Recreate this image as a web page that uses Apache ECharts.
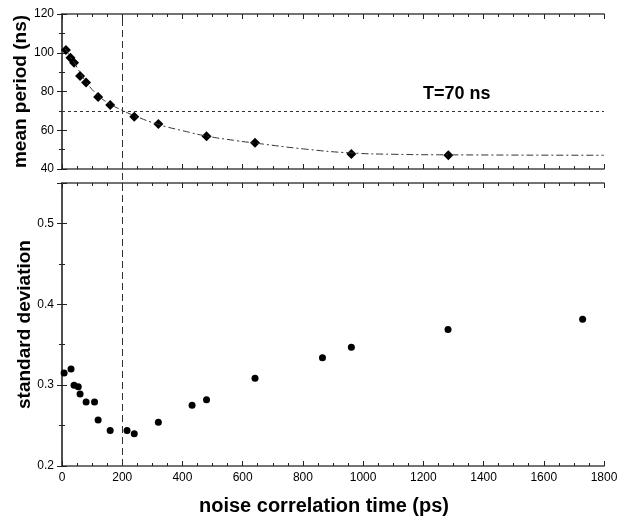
<!DOCTYPE html>
<html>
<head>
<meta charset="utf-8">
<script src="https://cdn.jsdelivr.net/npm/echarts@6/dist/echarts.min.js"></script>
<style>
  html, body { margin: 0; padding: 0; background: #fff; }
  #chart { width: 619px; height: 516px; }
</style>
</head>
<body>
<div id="chart"></div>
<script>
// top panel: mean period vs noise correlation time
const periodX = [13, 28, 40, 60, 80, 120, 160, 240, 320, 480, 641, 961, 1283];
const periodY = [101.4, 97.4, 94.9, 88, 84.6, 77.2, 73, 67, 63.2, 56.9, 53.6, 47.7, 47.1];
// fitted curve
const fitX = [10, 40, 80, 120, 160, 204, 240, 320, 400, 480, 580, 640, 812, 960, 1100, 1300, 1800];
const fitY = [102, 95, 85, 78, 73.5, 70, 67.5, 63, 59.8, 57, 54.6, 53.4, 50.2, 48.3, 47.6, 47.3, 47.1];
// bottom panel: standard deviation
const sdX = [7, 30, 40, 54, 60, 80, 108, 120, 160, 216, 240, 320, 432, 480, 641, 865, 961, 1282, 1729];
const sdY = [0.315, 0.32, 0.3, 0.298, 0.289, 0.279, 0.279, 0.257, 0.244, 0.244, 0.240, 0.254, 0.275, 0.282, 0.3085, 0.334, 0.347, 0.3687, 0.3815];
const refPeriod = 70;
const refTime = 200;

const font = "'Liberation Sans', Arial, sans-serif";
const pair = (xs, ys) => xs.map((x, i) => [x, ys[i]]);

const axisLine = { show: true, lineStyle: { color: "#444", width: 1.5 } };
const ticks = { show: true, inside: true, length: 5, lineStyle: { color: "#222" } };
const minor = (n) => ({ show: true, splitNumber: n, length: 3, lineStyle: { color: "#222" } });

function xAxisFor(grid, pos, labels) {
  return {
    type: "value", gridIndex: grid, position: pos, min: 0, max: 1800, interval: 200,
    axisLine, axisTick: ticks, minorTick: minor(4), splitLine: { show: false },
    axisLabel: { show: labels, color: "#000", fontSize: 12, fontFamily: font, margin: 6, formatter: (v) => String(v) }
  };
}
function yAxisFor(grid, pos, min, max, step, labels) {
  return {
    type: "value", gridIndex: grid, position: pos, min, max, interval: step,
    axisLine, axisTick: ticks, minorTick: minor(2), splitLine: { show: false },
    axisLabel: { show: labels, color: "#000", fontSize: 12, fontFamily: font, margin: 8, showMaxLabel: max % step === 0 }
  };
}

const chart = echarts.init(document.getElementById("chart"));
chart.setOption({
  animation: false,
  grid: [
    { left: 62, width: 542, top: 14, height: 155, outerBoundsMode: "none" },
    { left: 62, width: 542, top: 183, height: 283, outerBoundsMode: "none" },
    { left: 62, width: 542, top: 14, height: 452, outerBoundsMode: "none" }
  ],
  xAxis: [
    xAxisFor(0, "bottom", false),
    xAxisFor(0, "top", false),
    Object.assign(xAxisFor(1, "bottom", true), {
      name: "noise correlation time (ps)", nameLocation: "middle", nameGap: 30, nameMoveOverlap: false,
      nameTextStyle: { fontSize: 20, fontWeight: "bold", color: "#000", fontFamily: font, padding: [0, 18, 0, 0] }
    }),
    xAxisFor(1, "top", false),
    { type: "value", gridIndex: 2, min: 0, max: 1800, show: false }
  ],
  yAxis: [
    Object.assign(yAxisFor(0, "left", 40, 120, 20, true), {
      name: "mean period (ns)", nameLocation: "middle", nameGap: 32, nameMoveOverlap: false,
      nameTextStyle: { fontSize: 19, fontWeight: "bold", color: "#000", fontFamily: font }
    }),
    yAxisFor(0, "right", 40, 120, 20, false),
    Object.assign(yAxisFor(1, "left", 0.2, 0.55, 0.1, true), {
      name: "standard deviation", nameLocation: "middle", nameGap: 28, nameMoveOverlap: false,
      nameTextStyle: { fontSize: 19, fontWeight: "bold", color: "#000", fontFamily: font }
    }),
    yAxisFor(1, "right", 0.2, 0.55, 0.1, false),
    { type: "value", gridIndex: 2, min: 0, max: 1, show: false }
  ],
  graphic: [
    { type: "text", left: 423, top: 85, style: { text: "T=70 ns", font: "bold 18px " + font, fill: "#000" } }
  ],
  series: [
    {
      type: "line", xAxisIndex: 0, yAxisIndex: 0, data: pair(fitX, fitY),
      smooth: true, showSymbol: false, silent: true,
      lineStyle: { color: "#333", width: 1, type: [7, 3, 2, 3] },
      markLine: {
        silent: true, symbol: "none", label: { show: false },
        lineStyle: { color: "#333", width: 1, type: [3, 3] },
        data: [{ yAxis: refPeriod }]
      }
    },
    {
      type: "scatter", xAxisIndex: 0, yAxisIndex: 0, data: pair(periodX, periodY),
      symbol: "diamond", symbolSize: 10, itemStyle: { color: "#000", opacity: 1 }
    },
    {
      type: "scatter", xAxisIndex: 2, yAxisIndex: 2, data: pair(sdX, sdY),
      symbol: "circle", symbolSize: 7, itemStyle: { color: "#000", opacity: 1 }
    },
    {
      type: "line", xAxisIndex: 4, yAxisIndex: 4, data: [],
      markLine: {
        silent: true, symbol: "none", label: { show: false },
        lineStyle: { color: "#333", width: 1, type: [7, 4] },
        data: [{ xAxis: refTime }]
      }
    }
  ]
});
</script>
</body>
</html>
